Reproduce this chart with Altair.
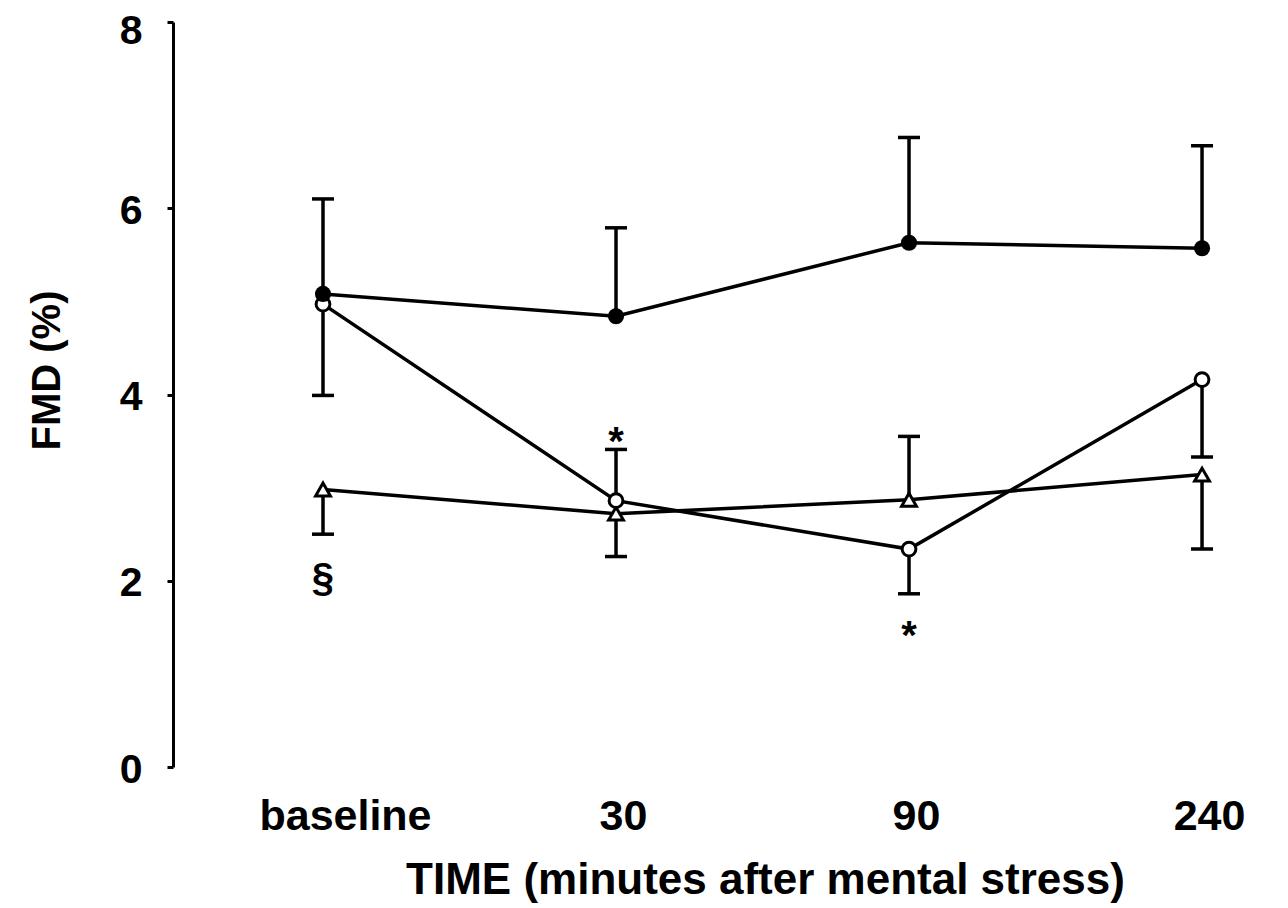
import altair as alt
import pandas as pd

times = ["baseline", "30", "90", "240"]

filled_mean = [5.08, 4.84, 5.63, 5.57]
filled_end = [6.10, 5.79, 6.76, 6.67]

open_mean = [4.97, 2.86, 2.34, 4.16]
open_end = [3.99, 3.41, 1.86, 3.33]

tri_mean = [2.98, 2.72, 2.87, 3.14]
tri_end = [2.50, 2.26, 3.55, 2.34]

ann_time = ["30", "baseline", "90"]
ann_value = [3.35, 1.89, 1.27]
ann_label = ["*", "§", "*"]

rows = []
for name, means, ends in [("filled", filled_mean, filled_end),
                          ("open", open_mean, open_end),
                          ("triangle", tri_mean, tri_end)]:
    for t, m, e in zip(times, means, ends):
        rows.append({"series": name, "time": t, "mean": m, "end": e})
df = pd.DataFrame(rows)
ann = pd.DataFrame({"time": ann_time, "value": ann_value, "label": ann_label})

FONT = "Liberation Sans"

x_enc = alt.X(
    "time:N", sort=times,
    scale=alt.Scale(type="point", padding=0.36, align=0.711),
    axis=alt.Axis(
        title="TIME (minutes after mental stress)",
        domain=False, ticks=False, labelAngle=0,
        labelFont=FONT, labelFontSize=43, labelFontWeight="bold", labelColor="black",
        labelPadding=49, labelBaseline="middle",
        labelOffset={"condition": {"test": "datum.value === 'baseline'", "value": 22}, "value": 7},
        titleFont=FONT, titleFontSize=44, titleFontWeight="bold", titleColor="black",
        titleX=592, titleY=113, titleBaseline="middle", titleAlign="center",
    ),
)

y_scale = alt.Scale(domain=[0, 8], nice=False, zero=True)
y_axis = alt.Axis(
    title="FMD (%)", values=[0, 2, 4, 6, 8], grid=False,
    domainWidth=3, domainColor="black", tickWidth=3, tickSize=6, tickColor="black",
    labelFont=FONT, labelFontSize=41, labelFontWeight="bold", labelColor="black",
    labelPadding=25,
    labelOffset={"condition": {"test": "datum.value === 8", "value": 9}, "value": 3},
    titleFont=FONT, titleFontSize=40, titleFontWeight="bold", titleColor="black",
    titleX=-126, titleY=348, titleBaseline="middle", titleAlign="center",
)


def Y(field):
    return alt.Y(field, scale=y_scale, axis=y_axis)


base = alt.Chart(df)

lines = base.mark_line(color="black", strokeWidth=3.5).encode(
    x=x_enc, y=Y("mean:Q"), detail="series:N"
)
bars = base.mark_rule(color="black", strokeWidth=3.5).encode(
    x=x_enc, y=Y("mean:Q"), y2="end:Q"
)
caps = base.mark_tick(color="black", size=22, thickness=3.5, opacity=1).encode(
    x=x_enc, y=Y("end:Q")
)
open_pts = base.transform_filter(alt.datum.series == "open").mark_point(
    shape="circle", filled=True, fill="white", stroke="black", strokeWidth=3, size=190, opacity=1
).encode(x=x_enc, y=Y("mean:Q"))
filled_pts = base.transform_filter(alt.datum.series == "filled").mark_point(
    shape="circle", filled=True, color="black", size=260, opacity=1
).encode(x=x_enc, y=Y("mean:Q"))
tri_pts = base.transform_filter(alt.datum.series == "triangle").mark_point(
    shape="triangle-up", filled=True, fill="white", stroke="black", strokeWidth=3, size=220, opacity=1
).encode(x=x_enc, y=Y("mean:Q"))

texts = alt.Chart(ann).mark_text(
    font=FONT, fontSize=40, fontWeight="bold", color="black", baseline="alphabetic", align="center"
).encode(x=x_enc, y=Y("value:Q"), text="label:N")

chart = alt.layer(lines, bars, caps, tri_pts, open_pts, filled_pts, texts).properties(
    width=1090, height=745,
    autosize=alt.AutoSizeParams(type="none"),
    padding={"left": 165, "top": 14, "right": 10, "bottom": 138},
).configure_view(stroke=None)

chart.save("out.html", embed_options={"renderer": "svg", "actions": False})
